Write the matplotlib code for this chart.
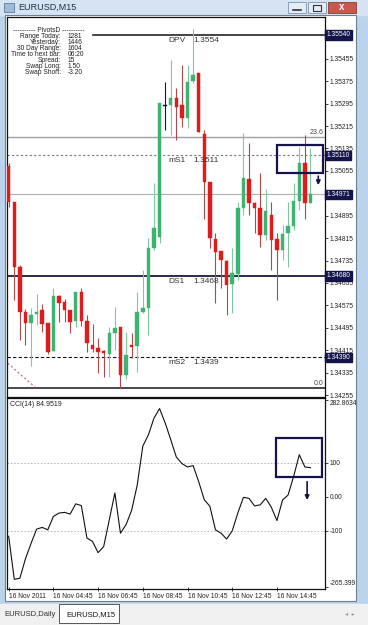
import numpy as np
import matplotlib
matplotlib.use("Agg")
import matplotlib.pyplot as plt
from matplotlib.patches import Rectangle
from matplotlib.transforms import blended_transform_factory

plt.rcParams['font.family'] = ['Liberation Sans', 'DejaVu Sans']

# EURUSD M15 bars, 16 Nov 2011 02:45 .. 16:15
opens = [1.35073, 1.34945, 1.34712, 1.34551, 1.34512, 1.34543, 1.34558, 1.34512, 1.34413, 1.34609,
         1.34587, 1.34558, 1.34520, 1.34624, 1.34519, 1.34433, 1.34422, 1.34412, 1.34403, 1.34475,
         1.34499, 1.34326, 1.34433, 1.34430, 1.34552, 1.34566, 1.34779, 1.34820, 1.35287, 1.35290,
         1.35314, 1.35290, 1.35243, 1.35377, 1.35403, 1.35187, 1.35016, 1.34812, 1.34769, 1.34734,
         1.34651, 1.34687, 1.34921, 1.35025, 1.34941, 1.34921, 1.34826, 1.34897, 1.34811, 1.34772,
         1.34832, 1.34858, 1.34947, 1.35082, 1.34941]
highs = [1.35083, 1.34945, 1.34719, 1.34562, 1.34565, 1.34615, 1.34580, 1.34512, 1.34637, 1.34612,
         1.34598, 1.34558, 1.34624, 1.34637, 1.34540, 1.34508, 1.34458, 1.34416, 1.34497, 1.34570,
         1.34499, 1.34481, 1.34476, 1.34624, 1.34701, 1.34815, 1.35011, 1.35296, 1.35373, 1.35451,
         1.35350, 1.35433, 1.35433, 1.35561, 1.35403, 1.35201, 1.35016, 1.34832, 1.34769, 1.34737,
         1.34779, 1.34945, 1.35189, 1.35153, 1.34944, 1.35046, 1.34989, 1.34945, 1.34832, 1.34862,
         1.34945, 1.35011, 1.35141, 1.35183, 1.35136]
lows = [1.34927, 1.34594, 1.34451, 1.34433, 1.34358, 1.34505, 1.34481, 1.34401, 1.34413, 1.34517,
        1.34517, 1.34476, 1.34498, 1.34501, 1.34408, 1.34409, 1.34334, 1.34319, 1.34320, 1.34416,
        1.34280, 1.34314, 1.34386, 1.34338, 1.34547, 1.34469, 1.34772, 1.34796, 1.35201, 1.35183,
        1.35165, 1.35213, 1.35207, 1.35368, 1.35195, 1.34882, 1.34779, 1.34582, 1.34636, 1.34540,
        1.34549, 1.34665, 1.34897, 1.34897, 1.34832, 1.34784, 1.34808, 1.34701, 1.34594, 1.34737,
        1.34713, 1.34844, 1.34915, 1.34882, 1.34941]
closes = [1.34945, 1.34711, 1.34551, 1.34512, 1.34540, 1.34552, 1.34508, 1.34409, 1.34608, 1.34584,
          1.34558, 1.34517, 1.34624, 1.34520, 1.34440, 1.34419, 1.34407, 1.34404, 1.34476, 1.34495,
          1.34326, 1.34398, 1.34427, 1.34552, 1.34566, 1.34779, 1.34850, 1.35296, 1.35287, 1.35314,
          1.35282, 1.35243, 1.35373, 1.35397, 1.35195, 1.35016, 1.34814, 1.34766, 1.34737, 1.34648,
          1.34691, 1.34921, 1.35031, 1.34941, 1.34921, 1.34826, 1.34912, 1.34808, 1.34772, 1.34829,
          1.34858, 1.34947, 1.35082, 1.34941, 1.34971]

cci = [-116, -242, -239, -182, -137, -95, -90, -97, -58, -48,
       -46, -51, -21, -26, -121, -131, -164, -146, -68, 11,
       -107, -82, -40, 34, 148, 181, 230, 258, 216, 167,
       116, 97, 87, 91, 44, -9, -28, -97, -107, -124,
       -100, -48, -2, -5, -27, -24, -5, -31, -70, -10,
       5, 60, 123, 87, 84.9519]

level_names = ["DPV", "mS1", "DS1", "mS2"]
level_values = [1.3554, 1.3511, 1.3468, 1.3439]
fib_names = ["23.6", "0.0"]
fib_values = [1.35176, 1.34280]
trend_x = [-0.2, 4.7]
trend_y = [1.34369, 1.34283]

price_ticks = [1.35455, 1.35375, 1.35295, 1.35215, 1.35135, 1.35055, 1.34895, 1.34815,
               1.34735, 1.34655, 1.34575, 1.34495, 1.34415, 1.34335, 1.34255]
time_ticks = [0, 8, 16, 24, 32, 40, 48]
time_labels = ["16 Nov 2011", "16 Nov 04:45", "16 Nov 06:45", "16 Nov 08:45",
               "16 Nov 10:45", "16 Nov 12:45", "16 Nov 14:45"]
cci_ticks = [282.8634, 100, 0, -100, -265.399]
cci_tick_labels = ["282.8634", "100", "0.00", "-100", "-265.399"]

pivot_labels = ["Range Today:", "Yesterday:", "30 Day Range:", "Time to next bar:",
                "Spread:", "Swap Long:", "Swap Short:"]
pivot_values = ["1281", "1446", "1604", "06:20", "15", "1.50", "-3.20"]

# hand drawn marks on the screenshot (bar index / value)
box_main = [48.0, 56.2, 1.35046, 1.35147]
arrow_main = [55.4, 1.35046, 1.34994]
box_cci = [47.9, 56.0, 57, 171]
arrow_cci = [53.4, 52, -18]

W, H = 368, 625
NAVY = "#14144a"
RED = "#e01b1b"
GREEN = "#3cb371"


def box(x0, y0, x1, y1):
    return [x0 / W, 1 - y1 / H, (x1 - x0) / W, (y1 - y0) / H]


fig = plt.figure(figsize=(W / 100, H / 100), dpi=100)

# window chrome
bg = fig.add_axes([0, 0, 1, 1])
bg.set_xlim(0, W)
bg.set_ylim(H, 0)
bg.axis("off")
bg.set_zorder(-5)


def prect(x0, y0, x1, y1, **kw):
    bg.add_patch(Rectangle((x0, y0), x1 - x0, y1 - y0, **kw))


prect(0, 0, W, H, color="#bcd3ec")
prect(0, 0, W, 15, color="#d6e3f2")
prect(5, 15, 356, 601, fc="white", ec="#6d7f93", lw=0.8)
prect(0, 604, W, H, color="#f0f0f0")
prect(59, 604, 119, 623, fc="white", ec="#555555", lw=0.7)
prect(4, 3, 14, 12, fc="#9fbbd9", ec="#4a6a8f", lw=0.5)
prect(288, 2, 306, 13, fc="#e4ecf6", ec="#7d93ad", lw=0.6)
prect(308, 2, 326, 13, fc="#e4ecf6", ec="#7d93ad", lw=0.6)
prect(328, 2, 356, 13, fc="#c9584c", ec="#8a3a33", lw=0.6)
bg.plot([293, 301], [9.5, 9.5], color="#333", lw=1.2)
prect(313, 5, 321, 10.5, fc="none", ec="#333", lw=0.8)
bg.text(342, 7.5, "x", color="white", fontsize=7, fontweight="bold", ha="center", va="center")
bg.text(18, 7.5, "EURUSD,M15", fontsize=6.5, color="#1e2f45", va="center")
bg.text(4, 614.5, "EURUSD,Daily", fontsize=5.5, color="#333", va="center")
bg.text(66, 614.5, "EURUSD,M15", fontsize=5.5, color="#111", va="center")
bg.text(350, 614.5, "\u25c2  \u25b8", fontsize=4.5, color="#999", va="center", ha="center")

x = np.arange(len(opens))
o = np.array(opens)
c = np.array(closes)
hi = np.array(highs)
lo = np.array(lows)

# ---- main price panel
ax = fig.add_axes(box(7, 17, 325, 397))
ax.set_xlim(-0.3, 56.6)
ax.set_ylim(1.34248, 1.35604)
for s in ax.spines.values():
    s.set_color("#111111")
    s.set_linewidth(0.9)

body_col = [NAVY if a == b else (GREEN if b > a else RED) for a, b in zip(o, c)]
wick_col = [NAVY if a == b else ("#7fc79c" if b > a else "#b04a4a") for a, b in zip(o, c)]
ax.vlines(x, lo, hi, colors=wick_col, lw=0.8, zorder=3)
bottoms = np.minimum(o, c)
heights = np.maximum(np.abs(c - o), 0.00004)
ax.bar(x, heights, bottom=bottoms, width=0.62, color=body_col, edgecolor=body_col,
       lw=0.3, zorder=4)

ax.axhline(level_values[0], xmin=0.27, color="#111111", lw=1.1, zorder=2)
ax.axhline(level_values[1], color="#777777", lw=0.8, ls=(0, (2, 2)), zorder=2)
ax.axhline(level_values[2], color="#1a1a3a", lw=1.3, zorder=2)
ax.axhline(level_values[3], color="#111111", lw=0.8, ls=(0, (3, 2)), zorder=2)
ax.axhline(fib_values[0], color="#a0a0a0", lw=1.0, zorder=2)
ax.axhline(fib_values[1], color="#2a2a3a", lw=1.2, zorder=2)
ax.axhline(closes[-1], color="#b0b0b0", lw=0.8, zorder=2)
ax.plot(trend_x, trend_y, color="#c07070", lw=0.8, ls=(0, (2, 2)), zorder=2)

for name, val in zip(level_names, level_values):
    ax.text(28.6, val - 0.00007, name, fontsize=6, color="#333333", va="top", zorder=5)
    ax.text(33.0, val - 0.00007, f"{val:.4f}", fontsize=6, color="#333333", va="top", zorder=5)

trans = blended_transform_factory(ax.transAxes, ax.transData)
for name, val in zip(fib_names, fib_values):
    ax.text(0.995, val + 0.00004, name, transform=trans, fontsize=5, color="#444444",
            ha="right", va="bottom", zorder=5)

ax.yaxis.tick_right()
ax.set_yticks(price_ticks)
ax.set_yticklabels([f"{t:.5f}" for t in price_ticks])
ax.tick_params(axis="y", length=2, width=0.6, pad=1.5, labelsize=4.8, colors="#222222")
ax.set_xticks([])

for val in level_values[:2] + [closes[-1]] + level_values[2:]:
    ax.text(1.005, val, f"{val:.5f}", transform=trans, fontsize=4.8, color="white",
            ha="left", va="center", clip_on=False, zorder=6,
            bbox=dict(boxstyle="square,pad=0.18", fc=NAVY, ec=NAVY))

ax.add_patch(Rectangle((box_main[0], box_main[2]), box_main[1] - box_main[0],
                       box_main[3] - box_main[2], fill=False, ec=NAVY, lw=1.6, zorder=7))
ax.annotate("", xy=(arrow_main[0], arrow_main[2]), xytext=(arrow_main[0], arrow_main[1]),
            arrowprops=dict(arrowstyle="-|>", color=NAVY, lw=1.2, mutation_scale=6), zorder=7)

# ---- CCI panel
ax2 = fig.add_axes(box(7, 398, 325, 589))
ax2.set_xlim(-0.3, 56.6)
ax2.set_ylim(-270.4, 289)
for s in ax2.spines.values():
    s.set_color("#111111")
    s.set_linewidth(0.9)
ax2.axhline(100, color="#b0b0b0", lw=0.6, ls=(0, (2, 2)))
ax2.axhline(-100, color="#b0b0b0", lw=0.6, ls=(0, (2, 2)))
ax2.plot(x, cci, color="#111111", lw=0.8)
ax2.text(0.01, 0.985, "CCI(14) 84.9519", transform=ax2.transAxes, fontsize=5,
         color="#222222", va="top")
ax2.yaxis.tick_right()
ax2.set_yticks(cci_ticks)
ax2.set_yticklabels(cci_tick_labels)
ax2.tick_params(axis="y", length=2, width=0.6, pad=1.5, labelsize=4.8, colors="#222222")
ylabs = ax2.get_yticklabels()
ylabs[0].set_va("top")
ylabs[-1].set_va("bottom")
ax2.set_xticks(time_ticks)
ax2.set_xticklabels(time_labels)
ax2.tick_params(axis="x", direction="inout", length=3, width=0.6, pad=1.5, labelsize=4.8,
                colors="#222222")
for lab in ax2.get_xticklabels():
    lab.set_ha("left")

ax2.add_patch(Rectangle((box_cci[0], box_cci[2]), box_cci[1] - box_cci[0],
                        box_cci[3] - box_cci[2], fill=False, ec=NAVY, lw=1.6, zorder=7))
ax2.annotate("", xy=(arrow_cci[0], arrow_cci[2]), xytext=(arrow_cci[0], arrow_cci[1]),
             arrowprops=dict(arrowstyle="-|>", color=NAVY, lw=1.2, mutation_scale=6), zorder=7)

# pivot info block
fig.text(49 / W, 1 - 30.5 / H, "---------- PivotsD ----------", fontsize=4.8,
         color="#222222", ha="center", va="center")
for i, (lab, val) in enumerate(zip(pivot_labels, pivot_values)):
    yy = 1 - (36.7 + 6 * i) / H
    fig.text(61 / W, yy, lab, fontsize=4.8, color="#222222", ha="right", va="center")
    fig.text(68 / W, yy, val, fontsize=4.8, color="#222222", ha="left", va="center")

fig.savefig("out.png", dpi=100)
